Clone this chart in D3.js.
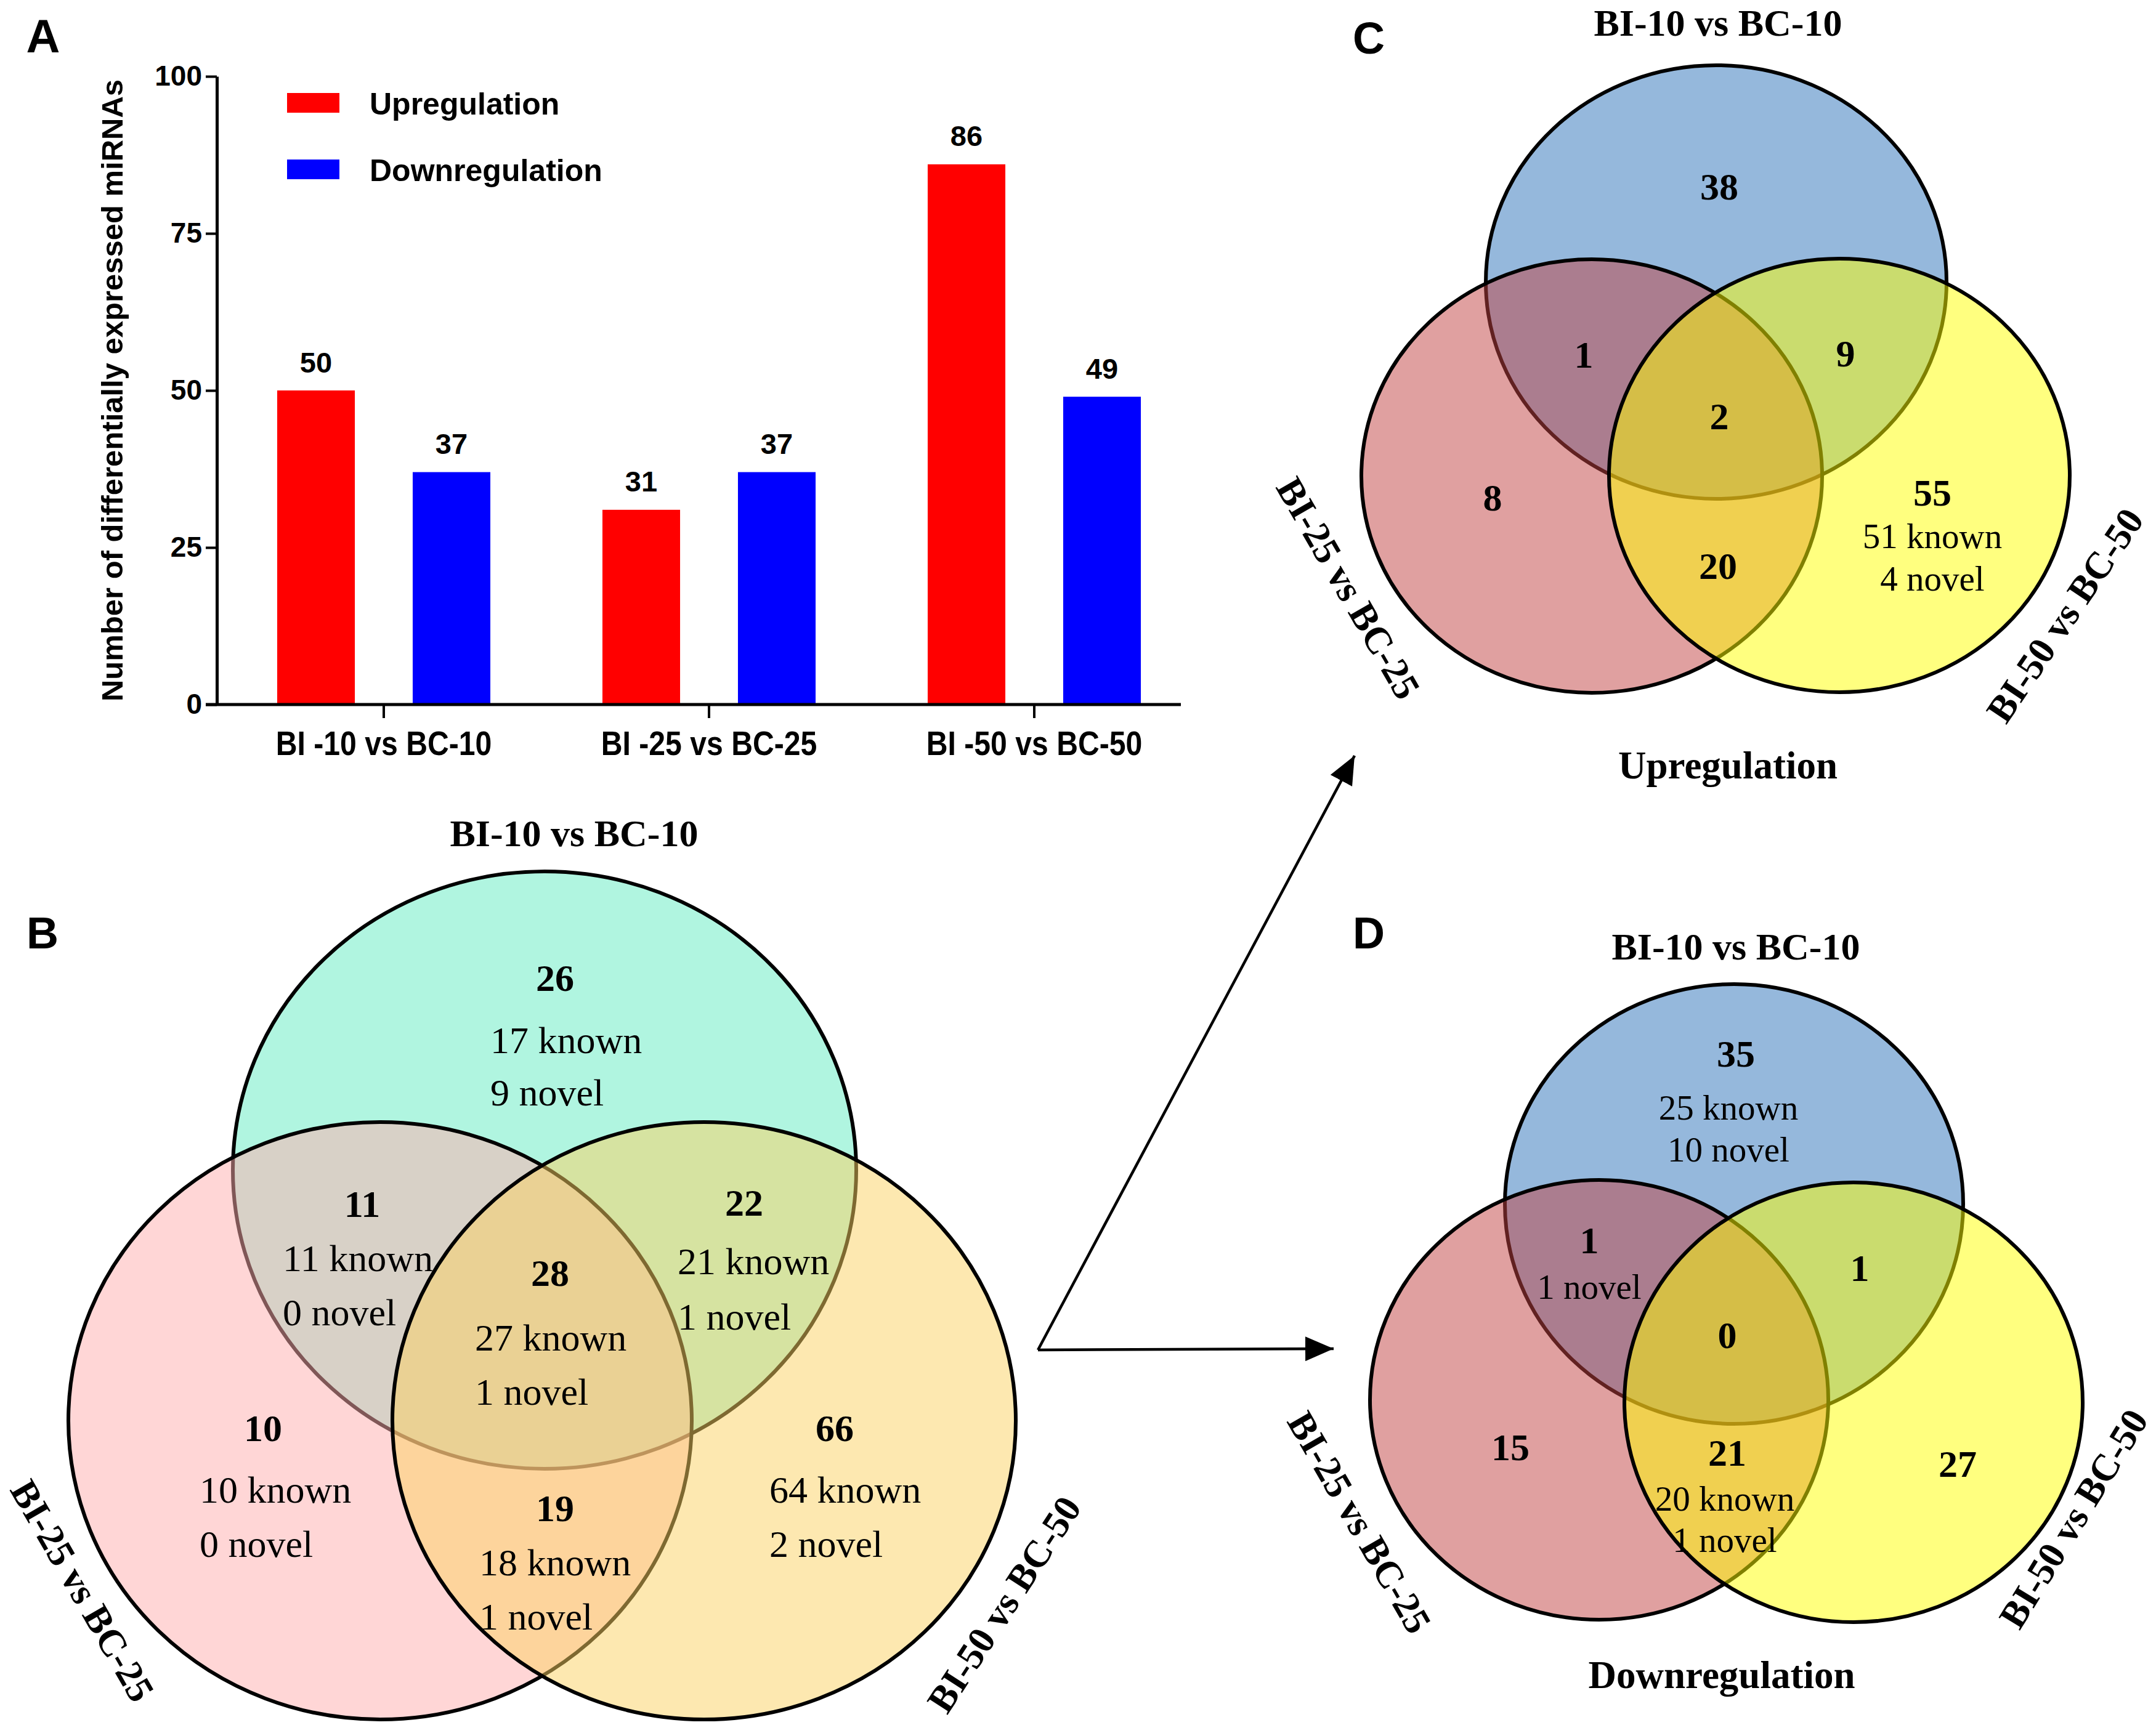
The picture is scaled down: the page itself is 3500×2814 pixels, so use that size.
<!DOCTYPE html>
<html>
<head>
<meta charset="utf-8">
<script src="https://cdn.jsdelivr.net/npm/d3@7"></script>
<style>
  body { margin: 0; background: #fff; }
</style>
</head>
<body>
<svg id="fig" width="3500" height="2814"></svg>
<script>
// ---- data: panel A (bar chart)
const groups = ["BI -10 vs BC-10", "BI -25 vs BC-25", "BI -50 vs BC-50"];
const series = ["Upregulation", "Downregulation"];
const upValues = [50, 31, 86];
const downValues = [37, 37, 49];
const yTicks = [0, 25, 50, 75, 100];
const barColors = ["#ff0000", "#0000ff"];

// ---- data: venn panels
const vennSets = ["BI-10 vs BC-10", "BI-25 vs BC-25", "BI-50 vs BC-50"];
// region order: 10 only, 10&25, 10&50, all three, 25 only, 25&50, 50 only
const totalCounts = [26, 11, 22, 28, 10, 19, 66];
const totalKnown  = [17, 11, 21, 27, 10, 18, 64];
const totalNovel  = [9, 0, 1, 1, 0, 1, 2];
const upCounts   = [38, 1, 9, 2, 8, 20, 55];
const upDetail   = [[], [], [], [], [], [], ["51 known", "4 novel"]];
const downCounts = [35, 1, 1, 0, 15, 21, 27];
const downDetail = [["25 known", "10 novel"], ["1 novel"], [], [], [], ["20 known", "1 novel"], []];

const svg = d3.select("#fig");
const sans = "'Liberation Sans', Arial, sans-serif";
const serif = "'Liberation Serif', 'Times New Roman', serif";

// ================= panel A =================
const x0 = d3.scaleBand().domain(groups).range([359, 1943]);
const x1 = d3.scaleBand().domain(series).range([0, x0.bandwidth()])
    .paddingInner(0.427).paddingOuter(0.4136);
const y = d3.scaleLinear().domain([0, 100]).range([1144, 124]);

const barData = [];
groups.forEach((g, i) => {
  barData.push({ group: g, s: series[0], v: upValues[i] });
  barData.push({ group: g, s: series[1], v: downValues[i] });
});

const gA = svg.append("g");

gA.selectAll("rect.bar")
  .data(barData)
  .join("rect")
  .attr("class", "bar")
  .attr("x", d => x0(d.group) + x1(d.s))
  .attr("y", d => y(d.v))
  .attr("width", x1.bandwidth())
  .attr("height", d => y(0) - y(d.v))
  .attr("fill", d => barColors[series.indexOf(d.s)]);

gA.selectAll("text.val")
  .data(barData)
  .join("text")
  .attr("class", "val")
  .attr("x", d => x0(d.group) + x1(d.s) + x1.bandwidth() / 2)
  .attr("y", d => y(d.v) - 46)
  .attr("text-anchor", "middle")
  .attr("dominant-baseline", "central")
  .style("font-family", sans).style("font-weight", "bold").style("font-size", "47px")
  .text(d => d.v);

// y axis
const yAxis = gA.append("g")
  .attr("transform", "translate(352,0)")
  .call(d3.axisLeft(y).tickValues(yTicks).tickSize(18).tickSizeOuter(0).tickPadding(6));
yAxis.select(".domain").attr("stroke-width", 5);
yAxis.selectAll(".tick line").attr("stroke-width", 4);
yAxis.selectAll(".tick text")
  .style("font-family", sans).style("font-weight", "bold").style("font-size", "46px");

// x axis
const xAxis = gA.append("g")
  .attr("transform", "translate(0," + y(0) + ")")
  .call(d3.axisBottom(x0).tickSize(22).tickSizeOuter(0).tickPadding(20));
xAxis.select(".domain").remove();
xAxis.append("line")
  .attr("x1", 334).attr("x2", x0.range()[1] - 26)
  .attr("stroke", "#000").attr("stroke-width", 5);
xAxis.selectAll(".tick line").attr("stroke-width", 4);
xAxis.selectAll(".tick text")
  .attr("transform", "scale(0.86,1)")
  .style("font-family", sans).style("font-weight", "bold").style("font-size", "56px");

gA.append("text")
  .attr("transform", "translate(182," + (y(0) + y(100)) / 2 + ") rotate(-90)")
  .attr("text-anchor", "middle")
  .attr("dominant-baseline", "central")
  .style("font-family", sans).style("font-weight", "bold").style("font-size", "49px")
  .text("Number of differentially expressed miRNAs");

// legend
const legend = gA.selectAll("g.leg")
  .data(series)
  .join("g")
  .attr("class", "leg")
  .attr("transform", (d, i) => "translate(466," + (151 + i * 108) + ")");
legend.append("rect")
  .attr("width", 85).attr("height", 32)
  .attr("fill", (d, i) => barColors[i]);
legend.append("text")
  .attr("x", 134).attr("y", 18)
  .attr("dominant-baseline", "central")
  .style("font-family", sans).style("font-weight", "bold").style("font-size", "50px")
  .text(d => d);

// ================= venn panels =================
function drawVenn(cfg) {
  const g = svg.append("g");
  g.selectAll("ellipse")
    .data(cfg.ellipses)
    .join("ellipse")
    .attr("cx", d => d[0]).attr("cy", d => d[1])
    .attr("rx", cfg.rx).attr("ry", cfg.ry)
    .attr("fill", (d, i) => cfg.colors[i])
    .attr("fill-opacity", 0.5)
    .attr("stroke", "#000")
    .attr("stroke-width", 6);

  const txt = (sel) => sel.attr("text-anchor", "middle").attr("dominant-baseline", "central")
    .style("font-family", serif);

  // top set title
  g.append("text").call(txt)
    .attr("x", cfg.title[0]).attr("y", cfg.title[1])
    .style("font-weight", "bold").style("font-size", "62px")
    .text(vennSets[0]);
  // rotated set labels
  g.selectAll("text.setlab")
    .data(cfg.sideLabels)
    .join("text").attr("class", "setlab").call(txt)
    .attr("transform", d => "translate(" + d[0] + "," + d[1] + ") rotate(" + d[2] + ")")
    .style("font-weight", "bold").style("font-size", "62px")
    .text((d, i) => vennSets[i + 1]);
  if (cfg.caption) {
    g.append("text").call(txt)
      .attr("x", cfg.caption[0]).attr("y", cfg.caption[1])
      .style("font-weight", "bold").style("font-size", "63px")
      .text(cfg.caption[2]);
  }
  // region counts
  g.selectAll("text.count")
    .data(cfg.counts)
    .join("text").attr("class", "count").call(txt)
    .attr("x", (d, i) => cfg.numPos[i][0]).attr("y", (d, i) => cfg.numPos[i][1])
    .style("font-weight", "bold").style("font-size", "62px")
    .text(d => d);
  // detail lines
  const lines = [];
  cfg.detail.forEach((arr, i) => arr.forEach((s, j) => lines.push({ s, p: cfg.linePos[i][j] })));
  g.selectAll("text.detail")
    .data(lines)
    .join("text").attr("class", "detail").call(txt)
    .attr("text-anchor", cfg.lineAnchor)
    .attr("x", d => d.p[0]).attr("y", d => d.p[1])
    .style("font-size", cfg.lineSize)
    .text(d => d.s);
  if (cfg.letter) {
    svg.append("text")
      .attr("x", cfg.letter[0]).attr("y", cfg.letter[1])
      .attr("text-anchor", "middle").attr("dominant-baseline", "central")
      .style("font-family", sans).style("font-weight", "bold").style("font-size", "72px")
      .text(cfg.letter[2]);
  }
}

// panel B (all DE miRNAs)
drawVenn({
  ellipses: [[884, 1900], [617, 2307], [1143, 2307]],
  rx: 506, ry: 485,
  colors: ["#61ebc1", "#ffadad", "#fbd161"],
  title: [932, 1353],
  sideLabels: [[134, 2583, 60], [1630, 2605, -57]],
  counts: totalCounts,
  numPos: [[901, 1588], [588, 1955], [1208, 1953], [893, 2067], [427, 2319], [901, 2449], [1355, 2319]],
  detail: totalKnown.map((k, i) => [k + " known", totalNovel[i] + " novel"]),
  linePos: [[[796, 1689], [796, 1774]], [[459, 2043], [459, 2131]], [[1100, 2048], [1100, 2138]],
            [[771, 2172], [771, 2260]], [[324, 2419], [324, 2507]], [[778, 2537], [778, 2625]],
            [[1249, 2419], [1249, 2507]]],
  lineAnchor: "start", lineSize: "62px",
  letter: [69, 1515, "B"]
});

// panel C (upregulation)
drawVenn({
  ellipses: [[2786, 458], [2584, 773], [2986, 772]],
  rx: 374, ry: 352,
  colors: ["#2b71b9", "#c14141", "#ffff00"],
  title: [2789, 37],
  sideLabels: [[2189, 955, 60], [3352, 999, -56]],
  caption: [2805, 1243, "Upregulation"],
  counts: upCounts,
  numPos: [[2791, 303], [2571, 576], [2996, 574], [2791, 676], [2423, 808], [2789, 919], [3137, 800]],
  detail: upDetail,
  linePos: [[], [], [], [], [], [], [[3137, 870], [3137, 939]]],
  lineAnchor: "middle", lineSize: "57px",
  letter: [2222, 62, "C"]
});

// panel D (downregulation)
drawVenn({
  ellipses: [[2815, 1955], [2596, 2273], [3009, 2277]],
  rx: 372, ry: 357,
  colors: ["#2b71b9", "#c14141", "#ffff00"],
  title: [2818, 1537],
  sideLabels: [[2207, 2472, 60], [3366, 2466, -58.5]],
  caption: [2795, 2720, "Downregulation"],
  counts: downCounts,
  numPos: [[2818, 1711], [2580, 2014], [3019, 2059], [2804, 2168], [2452, 2350], [2804, 2359], [3178, 2377]],
  detail: downDetail,
  linePos: [[[2806, 1798], [2806, 1866]], [[2580, 2089]], [], [], [], [[2800, 2433], [2800, 2500]], []],
  lineAnchor: "middle", lineSize: "57px",
  letter: [2222, 1515, "D"]
});

// letter A
svg.append("text")
  .attr("x", 70).attr("y", 58)
  .attr("text-anchor", "middle").attr("dominant-baseline", "central")
  .style("font-family", sans).style("font-weight", "bold").style("font-size", "76px")
  .text("A");

// arrows from B to C and D
svg.append("defs").append("marker")
  .attr("id", "head")
  .attr("markerUnits", "userSpaceOnUse")
  .attr("markerWidth", 46).attr("markerHeight", 40)
  .attr("refX", 46).attr("refY", 20)
  .attr("orient", "auto")
  .append("path").attr("d", "M0,0 L46,20 L0,40 Z").attr("fill", "#000");

const arrows = [[[1685, 2192], [2199, 1227]], [[1685, 2192], [2165, 2190]]];
svg.selectAll("line.arrow")
  .data(arrows)
  .join("line").attr("class", "arrow")
  .attr("x1", d => d[0][0]).attr("y1", d => d[0][1])
  .attr("x2", d => d[1][0]).attr("y2", d => d[1][1])
  .attr("stroke", "#000").attr("stroke-width", 4.5)
  .attr("marker-end", "url(#head)");
</script>
</body>
</html>
